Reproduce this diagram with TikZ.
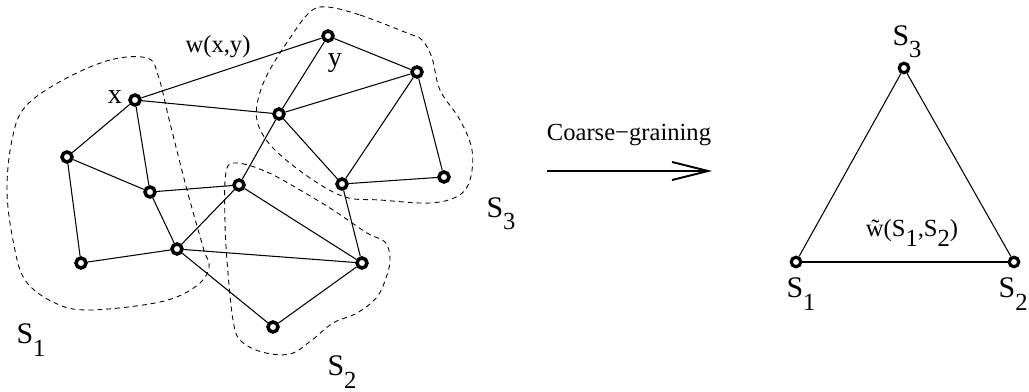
\documentclass[tikz,border=0pt]{standalone}
\usepackage{fontspec}
\setmainfont{Liberation Serif}
\usetikzlibrary{arrows.meta}
\newcommand{\lbl}[2]{#1\raisebox{-0.9ex}{\fontsize{14pt}{14pt}\selectfont #2}}

\begin{document}
\begin{tikzpicture}[
    x=0.02cm, y=-0.02cm,
    vtx/.style={circle, draw=black, line width=2pt, fill=white, inner sep=0pt, minimum size=0.2cm},
    tvtx/.style={vtx, line width=1.8pt, minimum size=0.19cm},
    edge/.style={line width=0.6pt},
    region/.style={line width=0.5pt, dash pattern=on 2.8pt off 2.3pt},
    txt/.style={font=\fontsize{14pt}{16pt}\selectfont, inner sep=0pt},
    setlbl/.style={font=\fontsize{17pt}{19pt}\selectfont, inner sep=0pt}
  ]
  \useasboundingbox (0,0) rectangle (1029,392);

  % REGIONS
  \draw[region] plot[smooth cycle, tension=0.6] coordinates {(147,58) (110,60) (63,80) (25,107) (12,140) (7,190) (13,240) (25,280) (55,303) (90,310) (160,302) (195,287) (209,268) (203,247) (187,190) (170,123) (158,75)};
  \draw[region] plot[smooth cycle, tension=0.6] coordinates {(237,163) (267,172) (300,190) (333,210) (367,233) (385,242) (390,258) (387,275) (377,297) (357,313) (333,323) (312,340) (290,354) (262,352) (240,340) (233,320) (228,273) (225,223) (226,172)};
  \draw[region] plot[smooth cycle, tension=0.6] coordinates {(327,7) (360,15) (407,33) (422,40) (432,58) (440,90) (460,120) (472,150) (470,180) (458,196) (430,203) (380,200) (345,197) (310,178) (275,150) (259,127) (257,105) (267,75) (290,38) (310,12)};

  % FINE NETWORK
  \node[vtx] (nx) at (135,100) {};
  \node[vtx] (ny) at (328,36) {};
  \node[vtx] (na) at (67,157) {};
  \node[vtx] (nb) at (150,192) {};
  \node[vtx] (nc) at (239,185) {};
  \node[vtx] (nd) at (417,72) {};
  \node[vtx] (ne) at (279,114) {};
  \node[vtx] (nf) at (342,184) {};
  \node[vtx] (ng) at (444,177) {};
  \node[vtx] (nh) at (177,249) {};
  \node[vtx] (ni) at (81,263) {};
  \node[vtx] (nj) at (362,263) {};
  \node[vtx] (nk) at (273,327) {};

  \foreach \u/\v in {nx/ny, nx/ne, nx/na, nx/nb, na/nb, na/ni, nb/nc, nb/nh, ni/nh, nh/nc, nh/nj, nh/nk,
                     nc/ne, nc/nj, ne/ny, ne/nd, ne/nf, ny/nd, nd/nf, nd/ng, nf/ng, nf/nj, nj/nk}
    \draw[edge] (\u) -- (\v);

  \node[txt, font=\fontsize{16pt}{18pt}\selectfont] (lx) at (115,97) {x};
  \node[txt] (lw) at (218,47) {w(x,y)};
  \node[txt, font=\fontsize{16pt}{18pt}\selectfont] (ly) at (335,63) {y};
  \node[setlbl] (ls1) at (31,340) {\lbl{S}{1}};
  \node[setlbl] (ls2) at (342,372) {\lbl{S}{2}};
  \node[setlbl] (ls3) at (501,214) {\lbl{S}{3}};

  % ARROW
  \coordinate (ca) at (547,171);
  \coordinate (cb) at (712,171);
  \draw[line width=1.1pt, -{Straight Barb[length=0.72cm, width=0.36cm, line width=1.1pt]}] (ca) -- (cb);
  \node[txt, anchor=base] (lcg) at (629,140) {Coarse\textminus graining};

  % COARSE NETWORK
  \node[tvtx] (t1) at (796,262) {};
  \node[tvtx] (t2) at (1014,262) {};
  \node[tvtx] (t3) at (904,68) {};
  \draw[edge] (t1) -- (t2);
  \draw[edge] (t2) -- (t3);
  \draw[edge] (t3) -- (t1);

  \node[setlbl] (lt3) at (907,42) {\lbl{S}{3}};
  \node[setlbl] (lt1) at (801,294) {\lbl{S}{1}};
  \node[setlbl, anchor=east] (lt2) at (1028,294) {\lbl{S}{2}};
  \node[txt] (lwt) at (912,233) {\~{w}(\lbl{S}{1},\lbl{S}{2})};
\end{tikzpicture}
\end{document}
